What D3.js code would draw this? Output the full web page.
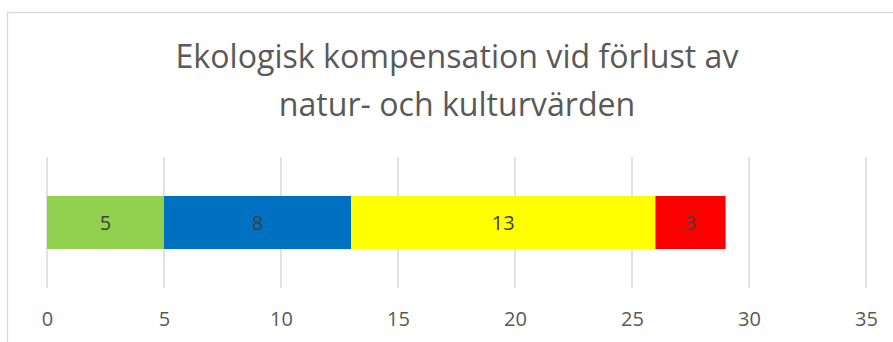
<!DOCTYPE html>
<html>
<head>
<meta charset="utf-8">
<script src="https://cdn.jsdelivr.net/npm/d3@7"></script>
<style>
  html, body { margin: 0; padding: 0; background: #fff; }
  svg { display: block; }
</style>
</head>
<body>
<svg id="chart" width="893" height="342"></svg>
<script>
// Single stacked bar: compensation measures, split into four parts
const categories = ["Ekologisk kompensation"];
const seriesNames = ["Del 1", "Del 2", "Del 3", "Del 4"];
const seriesValues = [5, 8, 13, 3];
const seriesColors = ["#92D050", "#0070C0", "#FFFF00", "#FF0000"];
const tickValues = [0, 5, 10, 15, 20, 25, 30, 35];
const titleLines = ["Ekologisk kompensation vid förlust av", "natur- och kulturvärden"];

const W = 893, H = 342;
const svg = d3.select("#chart");
const font = "'Open Sans', 'Liberation Sans', sans-serif";

// Chart frame
svg.append("rect")
  .attr("x", 7.5).attr("y", 12.5)
  .attr("width", 900).attr("height", 340)
  .attr("fill", "#fff")
  .attr("stroke", "#d9d9d9").attr("stroke-width", 1.3);

// Title, sized to fill its measured width
const titleCx = 457;
const titleG = svg.append("g");
const baselines = [68, 116];
titleLines.forEach((t, i) => {
  titleG.append("text")
    .attr("x", titleCx).attr("y", baselines[i])
    .attr("text-anchor", "middle")
    .attr("font-family", font)
    .attr("font-size", 30)
    .attr("fill", "#595959")
    .text(t);
});
const first = titleG.select("text").node();
const natural = first.getComputedTextLength();
const fitted = 30 * 563 / natural;
titleG.selectAll("text").attr("font-size", fitted);

// Scales
const x = d3.scaleLinear().domain([0, 35]).range([47, 866]);
const y = d3.scaleBand().domain(categories).range([157, 288]).paddingInner(0.424).paddingOuter(0.424);

// Vertical gridlines
svg.append("g")
  .selectAll("line")
  .data(tickValues)
  .join("line")
  .attr("x1", d => x(d)).attr("x2", d => x(d))
  .attr("y1", 157).attr("y2", 288)
  .attr("stroke", "#d9d9d9").attr("stroke-width", 1.5);

// Stack the series
const row = {};
seriesNames.forEach((n, i) => row[n] = seriesValues[i]);
row.category = categories[0];
const stacked = d3.stack().keys(seriesNames)([row]);

const segs = svg.append("g");
stacked.forEach((s, i) => {
  const d = s[0];
  segs.append("rect")
    .attr("x", x(d[0]))
    .attr("y", y(categories[0]))
    .attr("width", x(d[1]) - x(d[0]))
    .attr("height", y.bandwidth())
    .attr("fill", seriesColors[i]);
  segs.append("text")
    .attr("x", (x(d[0]) + x(d[1])) / 2)
    .attr("y", y(categories[0]) + y.bandwidth() / 2)
    .attr("dy", "0.35em")
    .attr("text-anchor", "middle")
    .attr("font-family", font)
    .attr("font-size", 20)
    .attr("fill", "#404040")
    .text(seriesValues[i]);
});

// X axis labels
const axis = d3.axisBottom(x).tickValues(tickValues).tickSize(0).tickPadding(0);
const axG = svg.append("g").attr("transform", "translate(0,312)").call(axis);
axG.select(".domain").remove();
axG.selectAll("text")
  .attr("font-family", font)
  .attr("font-size", 20)
  .attr("fill", "#595959")
  .attr("dy", "0.71em");
</script>
</body>
</html>
